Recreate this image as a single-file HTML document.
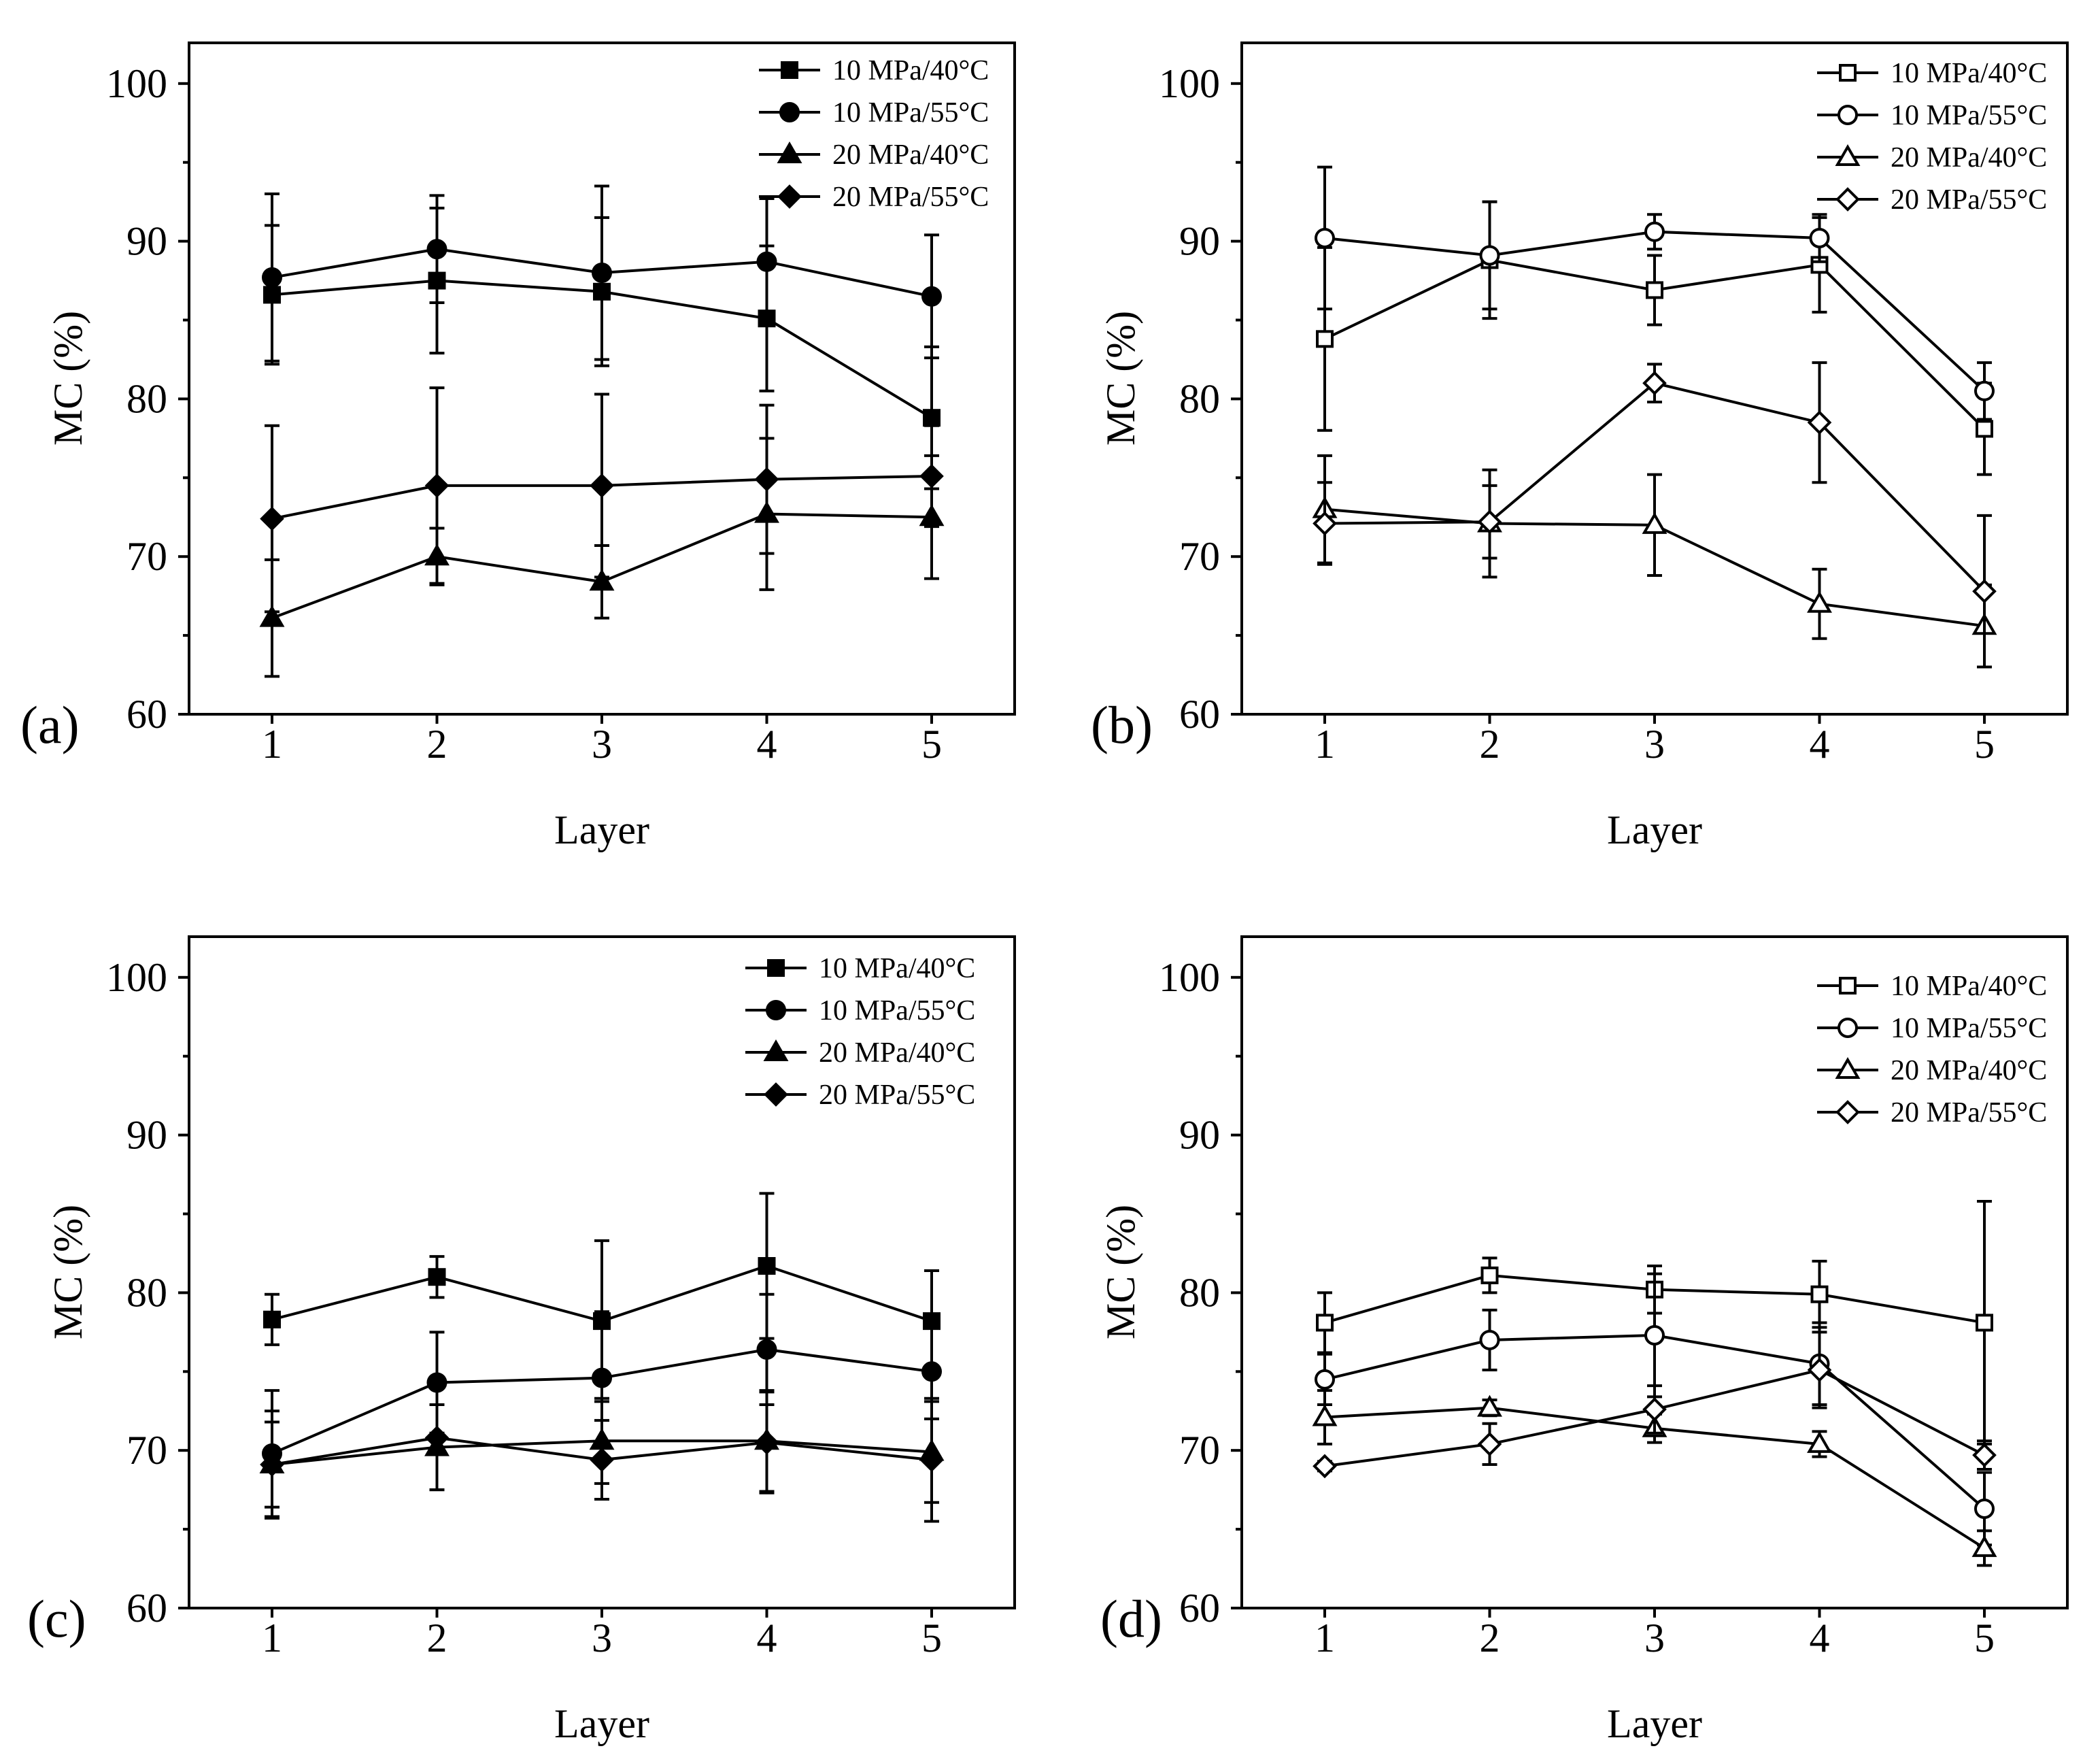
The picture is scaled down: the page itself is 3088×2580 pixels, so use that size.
<!DOCTYPE html>
<html><head><meta charset="utf-8"><style>
html,body{margin:0;padding:0;background:#fff;}
svg{display:block;}
text{font-family:"Liberation Serif",serif;fill:#000;}
</style></head><body>
<svg id="fig" width="3088" height="2580" viewBox="0 0 3088 2580" xmlns="http://www.w3.org/2000/svg"></svg>
<script>
const layers=[1,2,3,4,5];
const yTicks=[60,70,80,90,100];
const seriesNames=["10 MPa/40°C","10 MPa/55°C","20 MPa/40°C","20 MPa/55°C"];
// panel a
const aSq=[86.6,87.5,86.8,85.1,78.8], aSqE=[4.4,4.6,4.7,4.6,4.5];
const aCi=[87.7,89.5,88.0,88.7,86.5], aCiE=[5.3,3.4,5.5,4.0,3.9];
const aTr=[66.1,70.0,68.4,72.7,72.5], aTrE=[3.7,1.8,2.3,4.8,3.9];
const aDi=[72.4,74.5,74.5,74.9,75.1], aDiE=[5.9,6.2,5.8,4.7,3.2];
// panel b
const bSq=[83.8,88.8,86.9,88.5,78.1], bSqE=[5.8,3.7,2.2,3.0,2.9];
const bCi=[90.2,89.1,90.6,90.2,80.5], bCiE=[4.5,3.4,1.1,1.5,1.8];
const bTr=[73.0,72.1,72.0,67.0,65.6], bTrE=[3.4,3.4,3.2,2.2,2.6];
const bDi=[72.1,72.2,81.0,78.5,67.8], bDiE=[2.6,2.3,1.2,3.8,4.8];
// panel c
const cSq=[78.3,81.0,78.2,81.7,78.2], cSqE=[1.6,1.3,5.1,4.6,3.2];
const cCi=[69.8,74.3,74.6,76.4,75.0], cCiE=[4.0,3.2,4.2,3.5,3.0];
const cTr=[69.1,70.2,70.6,70.6,69.9], cTrE=[2.7,2.7,2.7,3.2,3.2];
const cDi=[69.1,70.8,69.4,70.5,69.4], cDiE=[3.4,3.3,2.5,3.2,3.9];
// panel d
const dSq=[78.1,81.1,80.2,79.9,78.1], dSqE=[1.9,1.1,1.5,2.1,7.7];
const dCi=[74.5,77.0,77.3,75.5,66.3], dCiE=[1.6,1.9,3.9,2.6,2.3];
const dTr=[72.1,72.7,71.4,70.4,63.8], dTrE=[1.7,0.5,0.9,0.8,1.1];
const dDi=[69.0,70.4,72.6,75.1,69.7], dDiE=[0.3,1.3,1.5,2.4,0.9];

const NS="http://www.w3.org/2000/svg";
const svg=document.getElementById('fig');
function mk(tag,attrs,parent){const e=document.createElementNS(NS,tag);for(const k in attrs)e.setAttribute(k,attrs[k]);(parent||svg).appendChild(e);return e;}

function marker(g,shape,x,y,filled){
  const f=filled?"#000":"#fff";let e;
  if(shape==="sq")e=mk('rect',{x:x-11,y:y-11,width:22,height:22,fill:f,stroke:"#000","stroke-width":4},g);
  else if(shape==="ci")e=mk('circle',{cx:x,cy:y,r:13,fill:f,stroke:"#000","stroke-width":4},g);
  else if(shape==="tr")e=mk('polygon',{points:`${x},${y-15} ${x+15},${y+11} ${x-15},${y+11}`,fill:f,stroke:"#000","stroke-width":4},g);
  else e=mk('polygon',{points:`${x},${y-15} ${x+15},${y} ${x},${y+15} ${x-15},${y}`,fill:f,stroke:"#000","stroke-width":4},g);
  
  
}

function panel(id,ox,oy,label,series,filled,legDx,legDy){
  const g=mk('g',{});
  
  
  const L=ox+278,R=ox+1492,T=oy+63,B=oy+1050;
  const xs=v=>ox+400+(v-1)*242.5;
  const ys=v=>B-(v-60)*23.18;
  const box=mk('rect',{x:L,y:T,width:R-L,height:B-T,fill:"none",stroke:"#000","stroke-width":4},g);
  
  
  for(let v=60;v<=100;v+=5){
    const y=ys(v);const major=v%10===0;
    mk('line',{x1:L-(major?16:9),x2:L,y1:y,y2:y,stroke:"#000","stroke-width":4},g);
  }
  yTicks.forEach(v=>{const t=mk('text',{x:L-32,y:ys(v)+20,"font-size":60,"text-anchor":"end"},g);t.textContent=v;
    
    });
  layers.forEach(v=>{const x=xs(v);mk('line',{x1:x,x2:x,y1:B,y2:B+14,stroke:"#000","stroke-width":4},g);
    const t=mk('text',{x:x,y:B+64,"font-size":60,"text-anchor":"middle"},g);t.textContent=v;
    
    });
  const xt=mk('text',{x:ox+885,y:oy+1240,"font-size":60,"text-anchor":"middle"},g);xt.textContent="Layer";
  
  
  const yt=mk('text',{x:0,y:0,"font-size":60,"text-anchor":"middle",transform:`translate(${ox+120},${oy+556}) rotate(-90)`},g);yt.textContent="MC (%)";
  
  
  const pl=mk('text',{x:ox+label.dx,y:B+42,"font-size":78},g);pl.textContent=label.t;
  
  
  const shapes=["sq","ci","tr","di"];
  series.forEach((s,i)=>{
    const sg=mk('g',{},g);
    
    
    const vals=s[0],errs=s[1];
    vals.forEach((v,j)=>{const x=xs(layers[j]);const y1=ys(v+errs[j]),y2=ys(v-errs[j]);
      mk('line',{x1:x,x2:x,y1:y1,y2:y2,stroke:"#000","stroke-width":4},sg);
      mk('line',{x1:x-11,x2:x+11,y1:y1,y2:y1,stroke:"#000","stroke-width":4},sg);
      mk('line',{x1:x-11,x2:x+11,y1:y2,y2:y2,stroke:"#000","stroke-width":4},sg);});
    mk('polyline',{points:vals.map((v,j)=>xs(layers[j])+","+ys(v)).join(" "),fill:"none",stroke:"#000","stroke-width":4},sg);
    vals.forEach((v,j)=>marker(sg,shapes[i],xs(layers[j]),ys(v),filled));
    const lx=ox+1116+legDx,ly=T+legDy+i*62;
    const lg=mk('g',{},g);
    
    
    mk('line',{x1:lx,x2:lx+90,y1:ly,y2:ly,stroke:"#000","stroke-width":4},lg);
    marker(lg,shapes[i],lx+45,ly,filled);
    const t=mk('text',{x:lx+108,y:ly+14,"font-size":42},lg);t.textContent=seriesNames[i];
  });
}
panel('a',0,0,{t:"(a)",dx:30},[[aSq,aSqE],[aCi,aCiE],[aTr,aTrE],[aDi,aDiE]],true,0,40);
panel('b',1548,0,{t:"(b)",dx:56},[[bSq,bSqE],[bCi,bCiE],[bTr,bTrE],[bDi,bDiE]],false,8,44);
panel('c',0,1314,{t:"(c)",dx:40},[[cSq,cSqE],[cCi,cCiE],[cTr,cTrE],[cDi,cDiE]],true,-20,46);
panel('d',1548,1314,{t:"(d)",dx:70},[[dSq,dSqE],[dCi,dCiE],[dTr,dTrE],[dDi,dDiE]],false,8,72);
</script>
</body></html>
